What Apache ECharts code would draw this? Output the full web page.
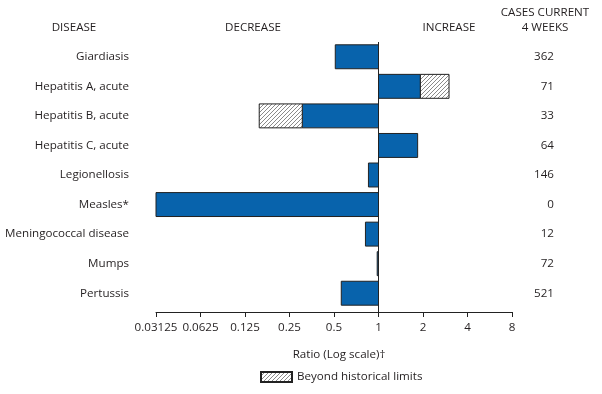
<!DOCTYPE html>
<html>
<head>
<meta charset="utf-8">
<script src="https://cdn.jsdelivr.net/npm/echarts@6/dist/echarts.min.js"></script>
<style>html,body{margin:0;padding:0;background:#fff}#c{width:602px;height:394px}</style>
</head>
<body>
<div id="c"></div>
<script>
const diseases = ["Giardiasis","Hepatitis A, acute","Hepatitis B, acute","Hepatitis C, acute","Legionellosis","Measles*","Meningococcal disease","Mumps","Pertussis"];
const cases = ["362","71","33","64","146","0","12","72","521"];
const ratios = [0.51, 1.92, 0.305, 1.84, 0.855, 0.03125, 0.816, 0.98, 0.56];
const beyond = [null, 3.0, 0.156, null, null, null, null, null, null];
const tickValues = [0.03125, 0.0625, 0.125, 0.25, 0.5, 1, 2, 4, 8];

const FONT = "Open Sans";
const FS = 11.6;
const TXT = "#231f20";
const BLUE = "#0863ac";

function makeHatch(){
  const s = 4, c = document.createElement('canvas');
  c.width = s; c.height = s;
  const g = c.getContext('2d');
  g.fillStyle = '#fff'; g.fillRect(0,0,s,s);
  g.strokeStyle = '#8a8a8a'; g.lineWidth = 1;
  g.beginPath();
  g.moveTo(0, s); g.lineTo(s, 0);
  g.moveTo(-1, 1); g.lineTo(1, -1);
  g.moveTo(s-1, s+1); g.lineTo(s+1, s-1);
  g.stroke();
  return c;
}
const hatch = {image: makeHatch(), repeat: 'repeat'};

const segs = [];
ratios.forEach((r, i) => {
  segs.push({value: [i, 1, r, 0]});
  if (beyond[i] != null) segs.push({value: [i, r, beyond[i], 1]});
});

const AX_OFF = 4;
const chart = echarts.init(document.getElementById('c'), null, {renderer: 'canvas'});
chart.setOption({
  animation: false,
  textStyle: {fontFamily: FONT, color: TXT},
  grid: {left: 156, right: 90, top: 42, bottom: 86},
  xAxis: {
    type: 'log', logBase: 2, min: 0.03125, max: 8, offset: AX_OFF,
    axisLine: {show: true, lineStyle: {color: '#222', width: 1}},
    axisTick: {show: true, length: 5, lineStyle: {color: '#222'}},
    splitLine: {show: false},
    axisLabel: {fontFamily: FONT, fontSize: FS, color: TXT, margin: 10,
      formatter: v => String(+(+v).toPrecision(6))},
    name: 'Ratio (Log scale)\u2020', nameLocation: 'middle', nameGap: 37,
    nameTextStyle: {fontFamily: FONT, fontSize: FS, color: TXT, padding: [0,0,0,10]}
  },
  yAxis: [{
    type: 'category', data: diseases, inverse: true,
    axisLine: {show: false}, axisTick: {show: false},
    axisLabel: {fontFamily: FONT, fontSize: FS, color: TXT, margin: 27}
  }, {
    type: 'category', data: cases, inverse: true, position: 'right',
    axisLine: {show: false}, axisTick: {show: false},
    axisLabel: {fontFamily: FONT, fontSize: FS, color: TXT, margin: 42, align: 'right'}
  }],
  legend: {
    left: 255, top: 366, itemWidth: 31, itemHeight: 10, itemGap: 10,
    textStyle: {fontFamily: FONT, fontSize: FS, color: TXT},
    data: [{name: 'Beyond historical limits', icon: 'rect'}]
  },
  graphic: [
    {type: 'text', x: 74, y: 28, style: {text: 'DISEASE', font: FS + 'px ' + FONT, fill: TXT, align: 'center', verticalAlign: 'middle'}},
    {type: 'text', x: 253, y: 28, style: {text: 'DECREASE', font: FS + 'px ' + FONT, fill: TXT, align: 'center', verticalAlign: 'middle'}},
    {type: 'text', x: 449, y: 28, style: {text: 'INCREASE', font: FS + 'px ' + FONT, fill: TXT, align: 'center', verticalAlign: 'middle'}},
    {type: 'text', x: 545, y: 13, style: {text: 'CASES CURRENT', font: FS + 'px ' + FONT, fill: TXT, align: 'center', verticalAlign: 'middle'}},
    {type: 'text', x: 545, y: 28, style: {text: '4 WEEKS', font: FS + 'px ' + FONT, fill: TXT, align: 'center', verticalAlign: 'middle'}}
  ],
  series: [{
    type: 'custom',
    name: 'ratio',
    data: segs,
    encode: {x: [1, 2], y: 0},
    renderItem: function (params, api) {
      const cat = api.value(0);
      const a = api.coord([api.value(1), cat]);
      const b = api.coord([api.value(2), cat]);
      const h = api.size([0, 1])[1] * 0.81;
      const kind = api.value(3);
      const children = [{
        type: 'rect',
        shape: {x: Math.min(a[0], b[0]), y: a[1] - h / 2, width: Math.abs(b[0] - a[0]), height: h},
        style: {fill: kind === 1 ? hatch : BLUE, stroke: '#222', lineWidth: 1}
      }];
      if (params.dataIndex === 0) {
        const cs = params.coordSys;
        const x1 = api.coord([1, 0])[0];
        children.push({
          type: 'line', z2: 10,
          shape: {x1: x1, y1: cs.y, x2: x1, y2: cs.y + cs.height + AX_OFF},
          style: {stroke: '#222', lineWidth: 1}
        });
      }
      return {type: 'group', children: children};
    }
  }, {
    type: 'bar', name: 'Beyond historical limits', data: [],
    itemStyle: {color: hatch, borderColor: '#222', borderWidth: 1}
  }]
});
</script>
</body>
</html>
